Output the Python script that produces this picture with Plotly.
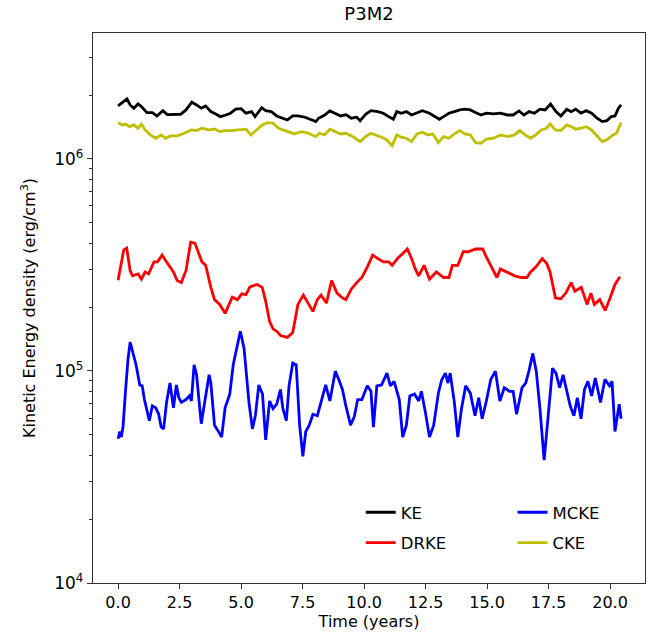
import plotly.graph_objects as go

# ---- data ----
t_ke = [0, 0.17, 0.36, 0.49, 0.64, 0.81, 0.95, 1.17, 1.39, 1.58, 1.82, 2.0, 2.25, 2.54, 2.76, 3.0, 3.19, 3.38, 3.56, 3.77,
        3.99, 4.16, 4.35, 4.57, 4.78, 5.0, 5.2, 5.43, 5.57, 5.84, 6.0, 6.23, 6.45, 6.66, 6.88, 7.1, 7.31, 7.6, 7.82, 8.04,
        8.15, 8.4, 8.61, 8.83, 9.05, 9.26, 9.48, 9.7, 9.84, 10.06, 10.28, 10.56, 10.78, 11.0, 11.19, 11.33, 11.51, 11.72,
        11.93, 12.11, 12.37, 12.66, 12.88, 13.06, 13.23, 13.45, 13.67, 13.89, 14.1, 14.32, 14.53, 14.75, 14.97, 15.26,
        15.54, 15.83, 16.06, 16.3, 16.5, 16.71, 16.93, 17.15, 17.36, 17.58, 17.8, 18.0, 18.24, 18.42, 18.6, 18.82, 19.03,
        19.25, 19.47, 19.68, 19.87, 20.05, 20.2, 20.34, 20.45]
ke = [1.778e6, 1.844e6, 1.919e6, 1.798e6, 1.735e6, 1.817e6, 1.765e6, 1.654e6, 1.654e6, 1.595e6, 1.690e6, 1.618e6,
      1.618e6, 1.625e6, 1.703e6, 1.852e6, 1.798e6, 1.735e6, 1.778e6, 1.672e6, 1.625e6, 1.583e6, 1.607e6, 1.643e6,
      1.716e6, 1.727e6, 1.643e6, 1.672e6, 1.583e6, 1.746e6, 1.690e6, 1.672e6, 1.595e6, 1.556e6, 1.527e6, 1.595e6,
      1.595e6, 1.573e6, 1.539e6, 1.500e6, 1.556e6, 1.612e6, 1.684e6, 1.643e6, 1.595e6, 1.618e6, 1.556e6, 1.573e6,
      1.516e6, 1.625e6, 1.690e6, 1.672e6, 1.643e6, 1.583e6, 1.539e6, 1.672e6, 1.643e6, 1.672e6, 1.612e6, 1.643e6,
      1.690e6, 1.643e6, 1.583e6, 1.539e6, 1.583e6, 1.643e6, 1.672e6, 1.703e6, 1.716e6, 1.703e6, 1.654e6, 1.612e6,
      1.643e6, 1.630e6, 1.643e6, 1.612e6, 1.612e6, 1.684e6, 1.612e6, 1.672e6, 1.643e6, 1.716e6, 1.703e6, 1.817e6,
      1.672e6, 1.595e6, 1.716e6, 1.672e6, 1.716e6, 1.643e6, 1.690e6, 1.643e6, 1.556e6, 1.500e6, 1.516e6, 1.583e6,
      1.595e6, 1.735e6, 1.798e6]

t_cke = [0, 0.17, 0.32, 0.46, 0.64, 0.81, 0.95, 1.1, 1.31, 1.53, 1.75, 1.93, 2.13, 2.4, 2.69, 2.98, 3.19, 3.41, 3.7,
         3.92, 4.13, 4.35, 4.57, 4.78, 5.0, 5.2, 5.4, 5.65, 5.86, 6.08, 6.3, 6.52, 6.74, 6.95, 7.17, 7.46, 7.74, 8.04,
         8.18, 8.4, 8.61, 8.83, 9.05, 9.26, 9.55, 9.84, 10.06, 10.28, 10.49, 10.71, 10.93, 11.14, 11.33, 11.51, 11.72,
         11.93, 12.15, 12.37, 12.59, 12.8, 13.02, 13.23, 13.45, 13.67, 13.89, 14.1, 14.32, 14.53, 14.75, 14.97, 15.26,
         15.54, 15.83, 16.12, 16.33, 16.55, 16.77, 16.98, 17.2, 17.42, 17.56, 17.78, 18.0, 18.24, 18.42, 18.6, 18.82,
         19.03, 19.25, 19.47, 19.68, 19.9, 20.12, 20.26, 20.45]
cke = [1.483e6, 1.447e6, 1.458e6, 1.420e6, 1.447e6, 1.396e6, 1.458e6, 1.370e6, 1.298e6, 1.252e6, 1.298e6, 1.252e6,
       1.284e6, 1.284e6, 1.322e6, 1.370e6, 1.360e6, 1.396e6, 1.370e6, 1.385e6, 1.345e6, 1.360e6, 1.360e6, 1.370e6,
       1.370e6, 1.381e6, 1.298e6, 1.370e6, 1.447e6, 1.483e6, 1.474e6, 1.396e6, 1.370e6, 1.345e6, 1.312e6, 1.345e6,
       1.322e6, 1.274e6, 1.322e6, 1.298e6, 1.381e6, 1.345e6, 1.312e6, 1.322e6, 1.274e6, 1.207e6, 1.274e6, 1.322e6,
       1.298e6, 1.266e6, 1.229e6, 1.155e6, 1.298e6, 1.266e6, 1.252e6, 1.207e6, 1.312e6, 1.336e6, 1.298e6, 1.312e6,
       1.194e6, 1.274e6, 1.252e6, 1.312e6, 1.360e6, 1.312e6, 1.298e6, 1.194e6, 1.186e6, 1.239e6, 1.252e6, 1.298e6,
       1.274e6, 1.298e6, 1.360e6, 1.298e6, 1.252e6, 1.298e6, 1.370e6, 1.396e6, 1.463e6, 1.370e6, 1.360e6, 1.447e6,
       1.420e6, 1.381e6, 1.396e6, 1.420e6, 1.370e6, 1.284e6, 1.207e6, 1.239e6, 1.298e6, 1.322e6, 1.483e6]

t_drke = [0, 0.23, 0.35, 0.49, 0.59, 0.81, 0.95, 1.1, 1.24, 1.46, 1.6, 1.79, 1.93, 2.11, 2.25, 2.4, 2.57, 2.76, 2.95,
          3.12, 3.27, 3.41, 3.56, 3.77, 3.92, 4.13, 4.35, 4.64, 4.85, 5.03, 5.2, 5.36, 5.65, 5.86, 6.0, 6.16, 6.3, 6.45,
          6.6, 6.74, 6.88, 7.1, 7.31, 7.53, 7.74, 7.92, 8.1, 8.25, 8.47, 8.68, 8.9, 9.12, 9.26, 9.48, 9.7, 9.91, 10.13,
          10.35, 10.56, 10.78, 11.0, 11.14, 11.36, 11.57, 11.76, 11.93, 12.08, 12.22, 12.44, 12.66, 12.94, 13.23, 13.45,
          13.59, 13.81, 14.03, 14.24, 14.53, 14.82, 14.96, 15.18, 15.4, 15.54, 15.83, 16.12, 16.4, 16.62, 16.77, 16.98,
          17.24, 17.42, 17.56, 17.78, 18.0, 18.2, 18.42, 18.57, 18.83, 19.07, 19.22, 19.36, 19.58, 19.8, 20.0, 20.2, 20.4]
drke = [2.68e5, 3.72e5, 3.80e5, 2.97e5, 2.81e5, 2.87e5, 2.71e5, 2.93e5, 2.87e5, 3.27e5, 3.27e5, 3.52e5, 3.32e5,
        3.09e5, 2.93e5, 2.67e5, 2.61e5, 2.97e5, 4.05e5, 4.01e5, 3.58e5, 3.27e5, 3.15e5, 2.48e5, 2.17e5, 2.06e5,
        1.87e5, 2.23e5, 2.17e5, 2.31e5, 2.29e5, 2.49e5, 2.56e5, 2.48e5, 2.13e5, 1.71e5, 1.58e5, 1.54e5, 1.47e5,
        1.45e5, 1.44e5, 1.52e5, 2.06e5, 2.28e5, 2.06e5, 1.91e5, 2.17e5, 2.28e5, 2.09e5, 2.67e5, 2.33e5, 2.21e5,
        2.17e5, 2.43e5, 2.61e5, 2.76e5, 3.09e5, 3.52e5, 3.39e5, 3.27e5, 3.27e5, 3.15e5, 3.39e5, 3.58e5, 3.76e5,
        3.39e5, 3.03e5, 2.81e5, 3.15e5, 2.71e5, 2.93e5, 2.76e5, 2.76e5, 3.15e5, 3.15e5, 3.65e5, 3.65e5, 3.76e5,
        3.76e5, 3.47e5, 3.09e5, 2.76e5, 3.03e5, 2.93e5, 2.81e5, 2.76e5, 2.76e5, 2.93e5, 3.09e5, 3.39e5, 3.22e5,
        2.93e5, 2.21e5, 2.19e5, 2.33e5, 2.61e5, 2.38e5, 2.48e5, 2.06e5, 2.33e5, 2.06e5, 2.17e5, 1.93e5, 2.21e5,
        2.56e5, 2.78e5]

t_mcke = [0, 0.07, 0.13, 0.2, 0.3, 0.4, 0.49, 0.59, 0.73, 0.88, 0.98, 1.07, 1.21, 1.27, 1.39, 1.53, 1.65, 1.75, 1.85,
          1.97, 2.11, 2.25, 2.37, 2.47, 2.57, 2.76, 2.9, 2.98, 3.09, 3.19, 3.38, 3.53, 3.7, 3.77, 3.92, 4.06, 4.21, 4.35,
          4.54, 4.68, 4.83, 4.97, 5.12, 5.32, 5.46, 5.58, 5.72, 5.87, 6.0, 6.16, 6.3, 6.45, 6.6, 6.7, 6.84, 6.95, 7.1,
          7.24, 7.38, 7.51, 7.63, 7.77, 7.92, 8.1, 8.3, 8.44, 8.61, 8.83, 8.97, 9.12, 9.26, 9.45, 9.6, 9.74, 9.91, 10.13,
          10.28, 10.38, 10.52, 10.71, 10.93, 11.07, 11.22, 11.43, 11.57, 11.72, 11.86, 12.05, 12.22, 12.33, 12.48,
          12.66, 12.83, 13.02, 13.16, 13.31, 13.41, 13.5, 13.67, 13.81, 13.96, 14.13, 14.32, 14.51, 14.66, 14.8, 14.97,
          15.15, 15.34, 15.52, 15.7, 15.91, 16.06, 16.2, 16.42, 16.57, 16.71, 16.86, 17.0, 17.15, 17.32, 17.47, 17.66,
          17.8, 17.95, 18.09, 18.24, 18.38, 18.53, 18.67, 18.82, 18.96, 19.1, 19.25, 19.4, 19.61, 19.79, 19.98, 20.08,
          20.2, 20.37, 20.45]
mcke = [4.79e4, 5.18e4, 4.88e4, 5.44e4, 8.02e4, 1.125e5, 1.37e5, 1.25e5, 1.07e5, 8.59e4, 8.51e4, 7.33e4, 6.38e4,
        5.83e4, 6.84e4, 6.70e4, 6.25e4, 5.44e4, 5.33e4, 7.11e4, 8.77e4, 6.70e4, 8.59e4, 7.48e4, 7.11e4, 7.33e4,
        7.63e4, 7.22e4, 1.07e5, 9.59e4, 5.64e4, 7.22e4, 9.59e4, 8.77e4, 5.55e4, 5.23e4, 4.88e4, 6.70e4, 7.78e4,
        1.07e5, 1.30e5, 1.54e5, 1.28e5, 7.11e4, 5.33e4, 6.15e4, 8.59e4, 7.78e4, 4.73e4, 7.22e4, 6.64e4, 6.97e4,
        8.18e4, 6.64e4, 5.83e4, 8.51e4, 1.09e5, 1.07e5, 5.55e4, 3.96e4, 5.18e4, 5.55e4, 6.25e4, 6.15e4, 7.48e4,
        8.59e4, 7.22e4, 9.98e4, 9.12e4, 8.18e4, 6.84e4, 5.55e4, 6.07e4, 7.33e4, 7.33e4, 8.51e4, 8.02e4, 5.44e4,
        8.51e4, 8.59e4, 9.77e4, 8.51e4, 8.94e4, 7.33e4, 4.88e4, 5.55e4, 7.63e4, 7.78e4, 7.22e4, 8.02e4, 6.50e4,
        4.88e4, 5.55e4, 7.86e4, 9.12e4, 9.77e4, 8.77e4, 9.77e4, 7.11e4, 4.88e4, 6.64e4, 8.51e4, 7.86e4, 6.15e4,
        7.48e4, 5.95e4, 7.22e4, 9.12e4, 9.98e4, 7.22e4, 8.34e4, 8.02e4, 8.02e4, 6.25e4, 8.34e4, 8.77e4, 1.01e5,
        1.21e5, 9.98e4, 6.64e4, 3.80e4, 5.71e4, 1.03e5, 9.77e4, 8.34e4, 9.59e4, 8.18e4, 6.84e4, 6.15e4, 7.48e4,
        5.95e4, 8.18e4, 8.94e4, 7.63e4, 9.27e4, 7.11e4, 9.12e4, 8.51e4, 8.94e4, 5.18e4, 6.97e4, 5.95e4]

x_ticks = [0, 2.5, 5, 7.5, 10, 12.5, 15, 17.5, 20]
x_ticklabels = ["0.0", "2.5", "5.0", "7.5", "10.0", "12.5", "15.0", "17.5", "20.0"]
y_ticks = [1e4, 1e5, 1e6]
y_ticklabels = ["10<sup>4</sup>", "10<sup>5</sup>", "10<sup>6</sup>"]
y_minor = [2e4, 3e4, 4e4, 5e4, 6e4, 7e4, 8e4, 9e4, 2e5, 3e5, 4e5, 5e5, 6e5, 7e5, 8e5, 9e5, 2e6, 3e6]

FONT = "DejaVu Sans"
LW = 2.8

fig = go.Figure()
fig.add_trace(go.Scatter(x=t_ke, y=ke, mode="lines", name="KE", legend="legend", legendgroup="ke",
                         line=dict(color="black", width=LW)))
fig.add_trace(go.Scatter(x=t_drke, y=drke, mode="lines", name="DRKE", legend="legend", legendgroup="drke",
                         line=dict(color="#ff0000", width=LW)))
fig.add_trace(go.Scatter(x=t_mcke, y=mcke, mode="lines", name="MCKE", legend="legend2", legendgroup="mcke",
                         line=dict(color="#0000ff", width=LW)))
fig.add_trace(go.Scatter(x=t_cke, y=cke, mode="lines", name="CKE", legend="legend2", legendgroup="cke",
                         line=dict(color="#bfbf00", width=LW)))

legend_common = dict(orientation="v", y=0.16, yanchor="top", bgcolor="rgba(255,255,255,0)",
                     font=dict(family=FONT, size=16.5, color="black"), traceorder="grouped",
                     itemwidth=30, tracegroupgap=6)

fig.update_layout(
    width=671, height=639,
    margin=dict(l=93, r=26, t=33, b=56),
    paper_bgcolor="white", plot_bgcolor="white",
    font=dict(family=FONT, size=16, color="black"),
    title=dict(text="P3M2", x=0.5, xref="paper", y=0.978, yanchor="middle",
               font=dict(family=FONT, size=18, color="black")),
    showlegend=True,
    legend=dict(x=0.485, xanchor="left", **legend_common),
    legend2=dict(x=0.76, xanchor="left", **legend_common),
)
fig.update_xaxes(
    range=[-1.02, 21.42], tickvals=x_ticks, ticktext=x_ticklabels,
    showline=True, linecolor="#333333", linewidth=1.3, mirror=True,
    ticks="outside", ticklen=5, tickwidth=1.1, tickcolor="#333333",
    tickfont=dict(family=FONT, size=16),
    showgrid=False, zeroline=False,
    title=dict(text="Time (years)", font=dict(family=FONT, size=16), standoff=4),
)
fig.update_yaxes(
    type="log", range=[4, 6.594], tickvals=y_ticks, ticktext=y_ticklabels,
    showline=True, linecolor="#333333", linewidth=1.3, mirror=True,
    ticks="outside", ticklen=5, tickwidth=1.1, tickcolor="#333333",
    tickfont=dict(family=FONT, size=17),
    minor=dict(ticks="outside", ticklen=3, tickwidth=0.9, tickcolor="#333333", showgrid=False,
               tickvals=y_minor),
    showgrid=False, zeroline=False,
    title=dict(text="Kinetic Energy density (erg/cm<sup>3</sup>)", font=dict(family=FONT, size=16), standoff=14),
)

fig.write_html("out.html")
